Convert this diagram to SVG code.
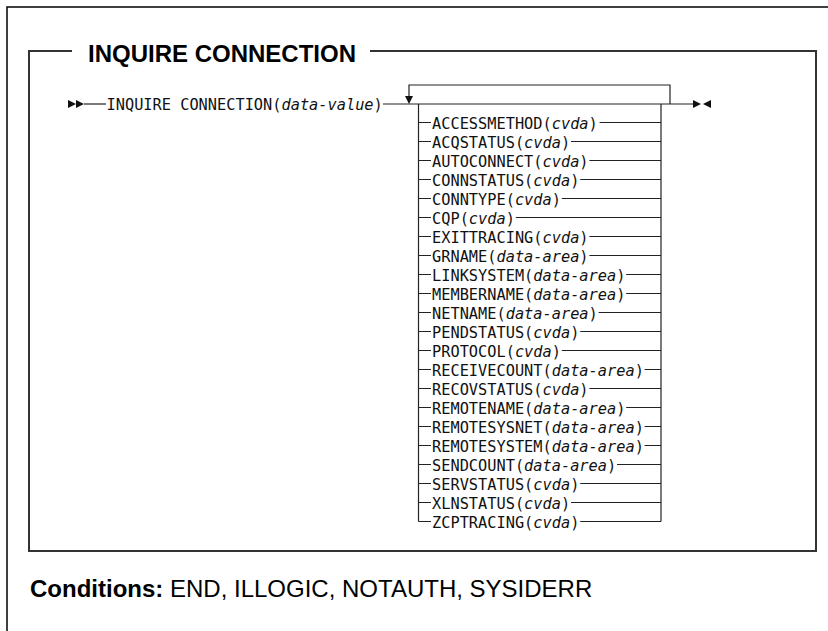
<svg xmlns="http://www.w3.org/2000/svg" width="828" height="631" viewBox="0 0 828 631">
<defs>
<style>
.frame{fill:none;stroke:#000;stroke-width:1.5}
.box{fill:none;stroke:#333;stroke-width:2}
.ln{fill:none;stroke:#222;stroke-width:1.2}
.mono{font-family:"DejaVu Sans Mono","Liberation Mono",monospace;font-size:15.3px;fill:#111}
.it{font-style:italic}
.head{font-family:"Liberation Sans",Arial,sans-serif;font-size:24px;font-weight:bold;fill:#000}
.cond{font-family:"Liberation Sans",Arial,sans-serif;font-size:24px;fill:#000}
.ah{fill:#111}
</style>
</defs>
<rect width="828" height="631" fill="#fff"/>
<path class="frame" d="M7,631 V7 H828"/>
<path class="box" d="M72,51 H29 V551 H816 V51 H370"/>
<text id="title" class="head" x="88" y="62">INQUIRE CONNECTION</text>

<g id="connectors">
<polygon class="ah" points="68,100 76,104 68,108"/>
<polygon class="ah" points="76,100 84,104 76,108"/>
<path class="ln" d="M84,104 H106"/>
<path class="ln" d="M383,104 H693"/>
<path class="ln" d="M409,97 V85 H670 V104"/>
<polygon class="ah" points="405,96 413,96 409,104"/>
<polygon class="ah" points="693,100 701,104 693,108"/>
<polygon class="ah" points="711,100 703,104 711,108"/>
<path class="ln" d="M418.5,104 V521.5 M661,104 V521.5"/>
<path class="ln" d="M418.5,122.5 H431 M599.6,122.5 H661
M418.5,141.5 H431 M571,141.5 H661
M418.5,160.5 H431 M589.4,160.5 H661
M418.5,179.5 H431 M580.2,179.5 H661
M418.5,198.5 H431 M561.8,198.5 H661
M418.5,217.5 H431 M515.8,217.5 H661
M418.5,236.5 H431 M589.4,236.5 H661
M418.5,255.5 H431 M589.4,255.5 H661
M418.5,274.5 H431 M626.2,274.5 H661
M418.5,293.5 H431 M626.2,293.5 H661
M418.5,312.5 H431 M598.6,312.5 H661
M418.5,331.5 H431 M580.2,331.5 H661
M418.5,350.5 H431 M561.8,350.5 H661
M418.5,369.5 H431 M644.6,369.5 H661
M418.5,388.5 H431 M589.4,388.5 H661
M418.5,407.5 H431 M626.2,407.5 H661
M418.5,426.5 H431 M644.6,426.5 H661
M418.5,445.5 H431 M644.6,445.5 H661
M418.5,464.5 H431 M617,464.5 H661
M418.5,483.5 H431 M580.2,483.5 H661
M418.5,502.5 H431 M571,502.5 H661
M418.5,521.5 H431 M580.2,521.5 H661"/>
</g>

<g id="cmd"><text class="mono" x="106.5" y="110">INQUIRE CONNECTION(<tspan class="it">data-value</tspan>)</text></g>

<g id="accessmethod"><text class="mono" x="432" y="128.5">ACCESSMETHOD(<tspan class="it">cvda</tspan>)</text></g>
<g id="acqstatus"><text class="mono" x="432" y="147.5">ACQSTATUS(<tspan class="it">cvda</tspan>)</text></g>
<g id="autoconnect"><text class="mono" x="432" y="166.5">AUTOCONNECT(<tspan class="it">cvda</tspan>)</text></g>
<g id="connstatus"><text class="mono" x="432" y="185.5">CONNSTATUS(<tspan class="it">cvda</tspan>)</text></g>
<g id="conntype"><text class="mono" x="432" y="204.5">CONNTYPE(<tspan class="it">cvda</tspan>)</text></g>
<g id="cqp"><text class="mono" x="432" y="223.5">CQP(<tspan class="it">cvda</tspan>)</text></g>
<g id="exittracing"><text class="mono" x="432" y="242.5">EXITTRACING(<tspan class="it">cvda</tspan>)</text></g>
<g id="grname"><text class="mono" x="432" y="261.5">GRNAME(<tspan class="it">data-area</tspan>)</text></g>
<g id="linksystem"><text class="mono" x="432" y="280.5">LINKSYSTEM(<tspan class="it">data-area</tspan>)</text></g>
<g id="membername"><text class="mono" x="432" y="299.5">MEMBERNAME(<tspan class="it">data-area</tspan>)</text></g>
<g id="netname"><text class="mono" x="432" y="318.5">NETNAME(<tspan class="it">data-area</tspan>)</text></g>
<g id="pendstatus"><text class="mono" x="432" y="337.5">PENDSTATUS(<tspan class="it">cvda</tspan>)</text></g>
<g id="protocol"><text class="mono" x="432" y="356.5">PROTOCOL(<tspan class="it">cvda</tspan>)</text></g>
<g id="receivecount"><text class="mono" x="432" y="375.5">RECEIVECOUNT(<tspan class="it">data-area</tspan>)</text></g>
<g id="recovstatus"><text class="mono" x="432" y="394.5">RECOVSTATUS(<tspan class="it">cvda</tspan>)</text></g>
<g id="remotename"><text class="mono" x="432" y="413.5">REMOTENAME(<tspan class="it">data-area</tspan>)</text></g>
<g id="remotesysnet"><text class="mono" x="432" y="432.5">REMOTESYSNET(<tspan class="it">data-area</tspan>)</text></g>
<g id="remotesystem"><text class="mono" x="432" y="451.5">REMOTESYSTEM(<tspan class="it">data-area</tspan>)</text></g>
<g id="sendcount"><text class="mono" x="432" y="470.5">SENDCOUNT(<tspan class="it">data-area</tspan>)</text></g>
<g id="servstatus"><text class="mono" x="432" y="489.5">SERVSTATUS(<tspan class="it">cvda</tspan>)</text></g>
<g id="xlnstatus"><text class="mono" x="432" y="508.5">XLNSTATUS(<tspan class="it">cvda</tspan>)</text></g>
<g id="zcptracing"><text class="mono" x="432" y="527.5">ZCPTRACING(<tspan class="it">cvda</tspan>)</text></g>

<g id="conditions"><text class="cond" x="30" y="597"><tspan font-weight="bold">Conditions:</tspan> END, ILLOGIC, NOTAUTH, SYSIDERR</text></g>
</svg>
